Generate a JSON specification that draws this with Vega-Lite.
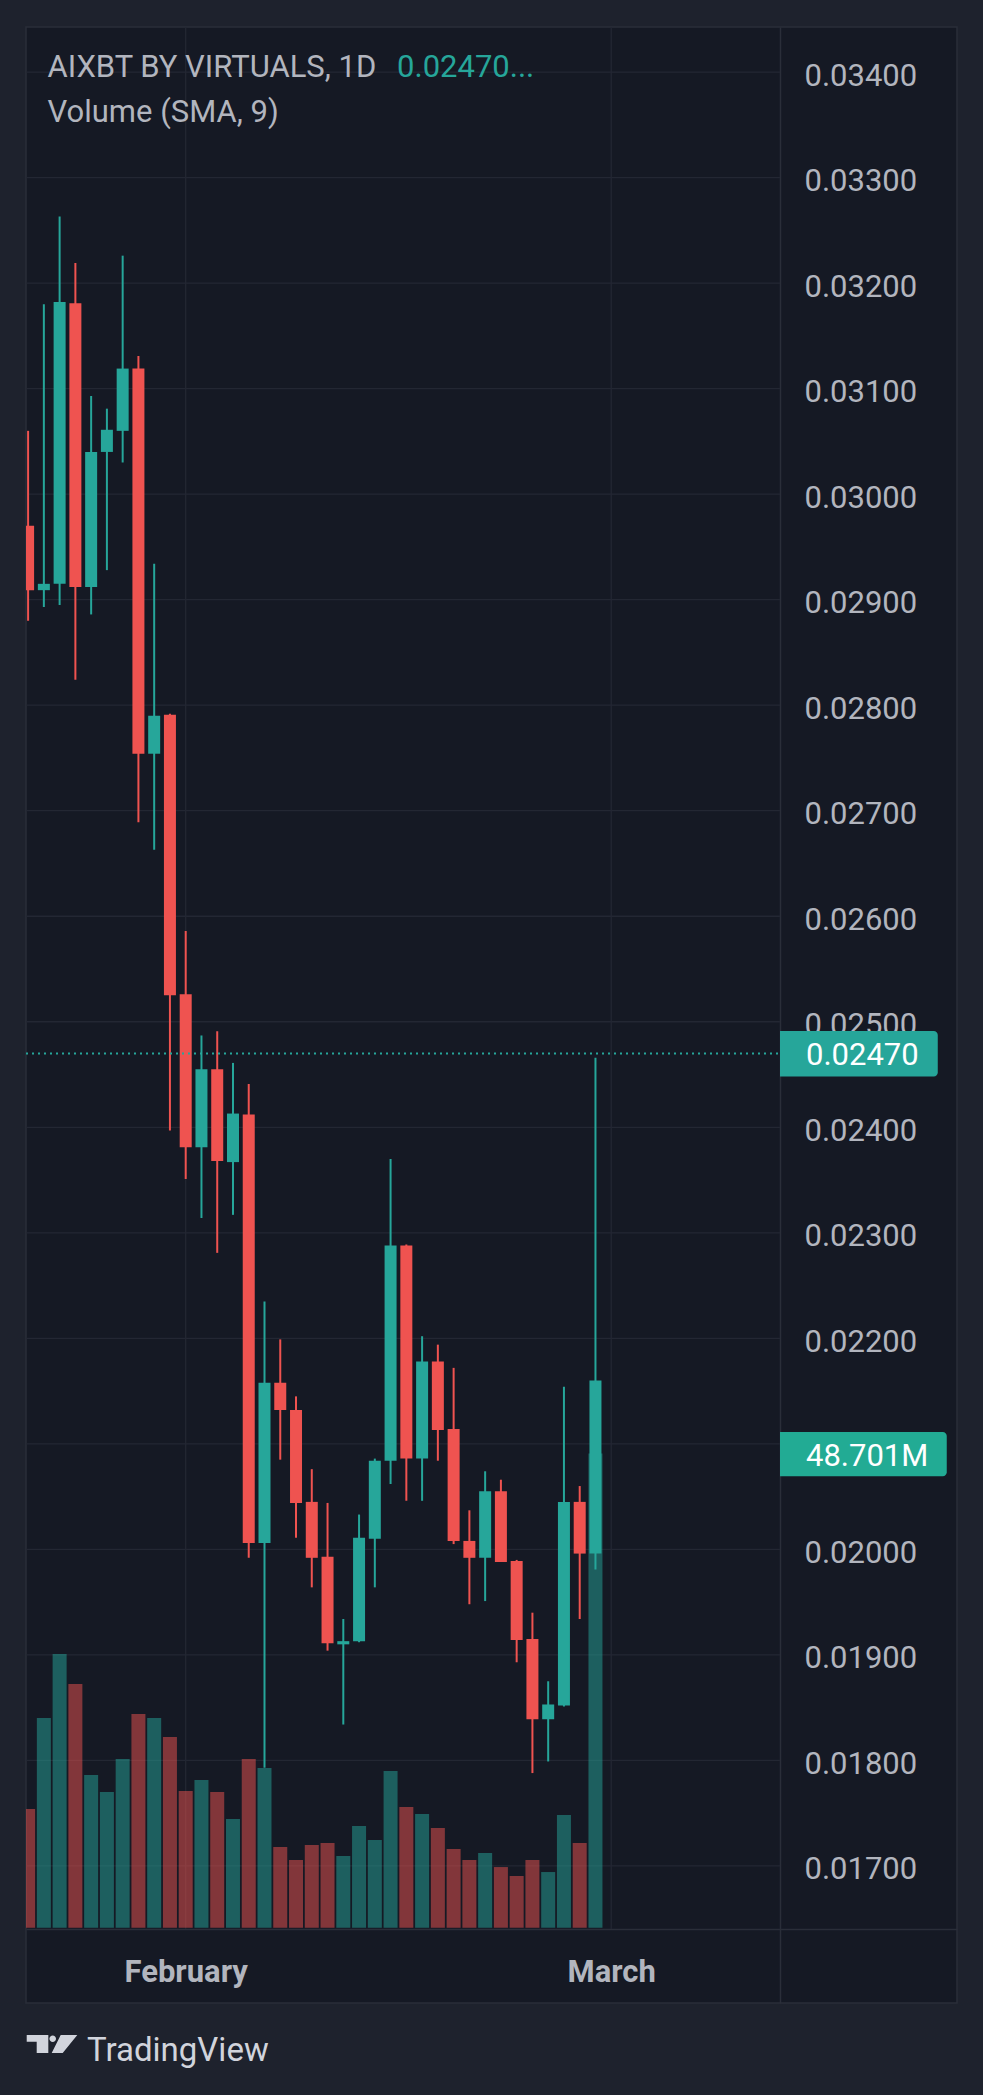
{
  "$schema": "https://vega.github.io/schema/vega-lite/v6.json",
  "width": 931,
  "height": 1976,
  "autosize": "none",
  "padding": {"left": 26, "top": 27, "right": 26, "bottom": 92},
  "background": "#1e222d",
  "config": {
    "font": "Roboto",
    "view": {"fill": "#151924", "stroke": "#2a2e39", "strokeWidth": 1.5}
  },
  "data": {
    "values": [
      {"i": 0, "o": 0.02970, "h": 0.03060, "l": 0.02880, "c": 0.02909, "v": 12190000},
      {"i": 1, "o": 0.02909, "h": 0.03180, "l": 0.02893, "c": 0.02915, "v": 21530000},
      {"i": 2, "o": 0.02915, "h": 0.03263, "l": 0.02895, "c": 0.03182, "v": 28110000},
      {"i": 3, "o": 0.03181, "h": 0.03219, "l": 0.02824, "c": 0.02912, "v": 25030000},
      {"i": 4, "o": 0.02912, "h": 0.03093, "l": 0.02886, "c": 0.03040, "v": 15680000},
      {"i": 5, "o": 0.03040, "h": 0.03081, "l": 0.02928, "c": 0.03061, "v": 13930000},
      {"i": 6, "o": 0.03060, "h": 0.03226, "l": 0.03030, "c": 0.03119, "v": 17320000},
      {"i": 7, "o": 0.03119, "h": 0.03131, "l": 0.02689, "c": 0.02754, "v": 21940000},
      {"i": 8, "o": 0.02754, "h": 0.02934, "l": 0.02663, "c": 0.02790, "v": 21530000},
      {"i": 9, "o": 0.02791, "h": 0.02792, "l": 0.02397, "c": 0.02525, "v": 19580000},
      {"i": 10, "o": 0.02526, "h": 0.02586, "l": 0.02351, "c": 0.02381, "v": 14040000},
      {"i": 11, "o": 0.02381, "h": 0.02487, "l": 0.02314, "c": 0.02455, "v": 15170000},
      {"i": 12, "o": 0.02455, "h": 0.02491, "l": 0.02281, "c": 0.02368, "v": 13930000},
      {"i": 13, "o": 0.02367, "h": 0.02461, "l": 0.02317, "c": 0.02413, "v": 11160000},
      {"i": 14, "o": 0.02412, "h": 0.02441, "l": 0.01992, "c": 0.02006, "v": 17320000},
      {"i": 15, "o": 0.02006, "h": 0.02235, "l": 0.01793, "c": 0.02158, "v": 16400000},
      {"i": 16, "o": 0.02158, "h": 0.02199, "l": 0.02085, "c": 0.02132, "v": 8280000},
      {"i": 17, "o": 0.02132, "h": 0.02145, "l": 0.02011, "c": 0.02044, "v": 6950000},
      {"i": 18, "o": 0.02045, "h": 0.02076, "l": 0.01964, "c": 0.01992, "v": 8490000},
      {"i": 19, "o": 0.01993, "h": 0.02044, "l": 0.01904, "c": 0.01911, "v": 8700000},
      {"i": 20, "o": 0.01910, "h": 0.01934, "l": 0.01834, "c": 0.01913, "v": 7360000},
      {"i": 21, "o": 0.01913, "h": 0.02033, "l": 0.01912, "c": 0.02011, "v": 10440000},
      {"i": 22, "o": 0.02010, "h": 0.02086, "l": 0.01964, "c": 0.02084, "v": 9000000},
      {"i": 23, "o": 0.02084, "h": 0.02370, "l": 0.02062, "c": 0.02288, "v": 16090000},
      {"i": 24, "o": 0.02288, "h": 0.02289, "l": 0.02046, "c": 0.02086, "v": 12390000},
      {"i": 25, "o": 0.02086, "h": 0.02202, "l": 0.02046, "c": 0.02178, "v": 11670000},
      {"i": 26, "o": 0.02178, "h": 0.02194, "l": 0.02084, "c": 0.02113, "v": 10240000},
      {"i": 27, "o": 0.02114, "h": 0.02172, "l": 0.02005, "c": 0.02008, "v": 8080000},
      {"i": 28, "o": 0.02008, "h": 0.02037, "l": 0.01948, "c": 0.01992, "v": 6950000},
      {"i": 29, "o": 0.01992, "h": 0.02074, "l": 0.01951, "c": 0.02055, "v": 7670000},
      {"i": 30, "o": 0.02055, "h": 0.02066, "l": 0.01988, "c": 0.01988, "v": 6230000},
      {"i": 31, "o": 0.01989, "h": 0.01990, "l": 0.01893, "c": 0.01914, "v": 5310000},
      {"i": 32, "o": 0.01915, "h": 0.01940, "l": 0.01788, "c": 0.01839, "v": 6950000},
      {"i": 33, "o": 0.01839, "h": 0.01875, "l": 0.01799, "c": 0.01853, "v": 5720000},
      {"i": 34, "o": 0.01852, "h": 0.02154, "l": 0.01851, "c": 0.02045, "v": 11570000},
      {"i": 35, "o": 0.02045, "h": 0.02060, "l": 0.01934, "c": 0.01996, "v": 8700000},
      {"i": 36, "o": 0.01996, "h": 0.02466, "l": 0.01981, "c": 0.02160, "v": 48701000}
    ]
  },
  "resolve": {"scale": {"x": "independent", "y": "independent"}},
  "layer": [
    {
      "data": {"values": [
        {"p": 0.017}, {"p": 0.018}, {"p": 0.019}, {"p": 0.020}, {"p": 0.021}, {"p": 0.022},
        {"p": 0.023}, {"p": 0.024}, {"p": 0.025}, {"p": 0.026}, {"p": 0.027}, {"p": 0.028},
        {"p": 0.029}, {"p": 0.030}, {"p": 0.031}, {"p": 0.032}, {"p": 0.033}, {"p": 0.034}
      ]},
      "mark": {"type": "rule", "color": "#232733", "strokeWidth": 1.3},
      "encoding": {
        "y": {"field": "p", "type": "quantitative", "scale": {"domain": [0.015701, 0.034427], "zero": false, "nice": false, "padding": 0}, "axis": null},
        "x": {"datum": -0.1332, "type": "quantitative", "scale": {"domain": [-0.1332, 58.94], "zero": false, "nice": false, "padding": 0}, "axis": null},
        "x2": {"datum": 47.709}
      }
    },
    {
      "data": {"values": [{"m": 10}, {"m": 37}]},
      "mark": {"type": "rule", "color": "#232733", "strokeWidth": 1.3},
      "encoding": {
        "x": {"field": "m", "type": "quantitative", "scale": {"domain": [-0.1332, 58.94], "zero": false, "nice": false, "padding": 0}, "axis": null},
        "y": {"datum": 0.034427, "type": "quantitative", "scale": {"domain": [0.015701, 0.034427], "zero": false, "nice": false, "padding": 0}, "axis": null},
        "y2": {"datum": 0.016402}
      }
    },
    {
      "mark": {"type": "bar", "size": 14, "opacity": 0.5, "clip": true},
      "encoding": {
        "x": {"field": "i", "type": "quantitative", "scale": {"domain": [-0.1332, 58.94], "zero": false, "nice": false, "padding": 0}, "axis": null},
        "y": {"field": "v", "type": "quantitative", "scale": {"domain": [-7730000, 195200000], "zero": false, "nice": false, "padding": 0}, "axis": null},
        "y2": {"datum": 0},
        "color": {"condition": {"test": "datum.c >= datum.o", "value": "#26a69a"}, "value": "#ef5350"}
      }
    },
    {
      "data": {"values": [{"v": 48701000, "label": "48.701M"}]},
      "mark": {"type": "rect", "color": "#22ab94", "cornerRadiusTopRight": 4, "cornerRadiusBottomRight": 4},
      "encoding": {
        "x": {"datum": 47.709, "type": "quantitative", "scale": {"domain": [-0.1332, 58.94], "zero": false, "nice": false, "padding": 0}, "axis": null},
        "x2": {"datum": 58.29},
        "y": {"datum": 50920000, "type": "quantitative", "scale": {"domain": [-7730000, 195200000], "zero": false, "nice": false, "padding": 0}, "axis": null},
        "y2": {"datum": 46370000}
      }
    },
    {
      "data": {"values": [{"v": 48701000, "label": "48.701M"}]},
      "mark": {"type": "text", "color": "#ffffff", "fontSize": 31, "align": "left", "baseline": "middle", "dx": 26, "dy": 3},
      "encoding": {
        "x": {"datum": 47.709, "type": "quantitative", "scale": {"domain": [-0.1332, 58.94], "zero": false, "nice": false, "padding": 0}, "axis": null},
        "y": {"field": "v", "type": "quantitative", "scale": {"domain": [-7730000, 195200000], "zero": false, "nice": false, "padding": 0}, "axis": null},
        "text": {"field": "label"}
      }
    },
    {
      "mark": {"type": "rule", "strokeWidth": 2, "clip": true},
      "encoding": {
        "x": {"field": "i", "type": "quantitative", "scale": {"domain": [-0.1332, 58.94], "zero": false, "nice": false, "padding": 0}, "axis": null},
        "y": {"field": "l", "type": "quantitative", "scale": {"domain": [0.015701, 0.034427], "zero": false, "nice": false, "padding": 0}, "axis": null},
        "y2": {"field": "h"},
        "color": {"condition": {"test": "datum.c >= datum.o", "value": "#26a69a"}, "value": "#ef5350"}
      }
    },
    {
      "mark": {"type": "bar", "size": 12, "clip": true},
      "encoding": {
        "x": {
          "field": "i", "type": "quantitative",
          "scale": {"domain": [-0.1332, 58.94], "zero": false, "nice": false, "padding": 0},
          "axis": {
            "orient": "bottom", "offset": -74, "title": null, "grid": false,
            "values": [10, 37],
            "labelExpr": "datum.value == 10 ? 'February' : 'March'",
            "ticks": false, "tickSize": 0,
            "domainColor": "#2a2e39", "domainWidth": 1.5,
            "labelColor": "#b2b5be", "labelFontSize": 31, "labelFontWeight": "bold",
            "labelPadding": 43, "labelBaseline": "middle",
            "labelOverlap": false, "labelFlush": false
          }
        },
        "y": {
          "field": "o", "type": "quantitative",
          "scale": {"domain": [0.015701, 0.034427], "zero": false, "nice": false, "padding": 0},
          "axis": {
            "orient": "right", "offset": -177, "title": null, "grid": false,
            "values": [0.017, 0.018, 0.019, 0.020, 0.022, 0.023, 0.024, 0.025, 0.026, 0.027, 0.028, 0.029, 0.030, 0.031, 0.032, 0.033, 0.034],
            "format": ".5f", "ticks": false, "tickSize": 0,
            "domainColor": "#2a2e39", "domainWidth": 1.5,
            "labelColor": "#b2b5be", "labelFontSize": 31, "labelPadding": 24,
            "labelAlign": "left", "labelBaseline": "middle", "labelOffset": 4,
            "labelOverlap": false, "labelFlush": false
          }
        },
        "y2": {"field": "c"},
        "color": {"condition": {"test": "datum.c >= datum.o", "value": "#26a69a"}, "value": "#ef5350"}
      }
    },
    {
      "data": {"values": [{"p": 0.0247, "label": "0.02470"}]},
      "mark": {"type": "rule", "color": "#26a69a", "strokeWidth": 2, "strokeDash": [2, 4]},
      "encoding": {
        "x": {"datum": -0.1332, "type": "quantitative", "scale": {"domain": [-0.1332, 58.94], "zero": false, "nice": false, "padding": 0}, "axis": null},
        "x2": {"datum": 47.709},
        "y": {"field": "p", "type": "quantitative", "scale": {"domain": [0.015701, 0.034427], "zero": false, "nice": false, "padding": 0}, "axis": null}
      }
    },
    {
      "data": {"values": [{"p": 0.0247, "label": "0.02470"}]},
      "mark": {"type": "rect", "color": "#26a69a", "cornerRadiusTopRight": 4, "cornerRadiusBottomRight": 4},
      "encoding": {
        "x": {"datum": 47.709, "type": "quantitative", "scale": {"domain": [-0.1332, 58.94], "zero": false, "nice": false, "padding": 0}, "axis": null},
        "x2": {"datum": 57.72},
        "y": {"datum": 0.024913, "type": "quantitative", "scale": {"domain": [0.015701, 0.034427], "zero": false, "nice": false, "padding": 0}, "axis": null},
        "y2": {"datum": 0.02448}
      }
    },
    {
      "data": {"values": [{"p": 0.0247, "label": "0.02470"}]},
      "mark": {"type": "text", "color": "#ffffff", "fontSize": 31, "align": "left", "baseline": "middle", "dx": 26, "dy": 3},
      "encoding": {
        "x": {"datum": 47.709, "type": "quantitative", "scale": {"domain": [-0.1332, 58.94], "zero": false, "nice": false, "padding": 0}, "axis": null},
        "y": {"field": "p", "type": "quantitative", "scale": {"domain": [0.015701, 0.034427], "zero": false, "nice": false, "padding": 0}, "axis": null},
        "text": {"field": "label"}
      }
    },
    {
      "data": {"values": [{"label": "AIXBT BY VIRTUALS, 1D"}]},
      "mark": {"type": "text", "color": "#b2b5be", "fontSize": 31, "align": "left", "baseline": "middle"},
      "encoding": {
        "x": {"datum": 1.23, "type": "quantitative", "scale": {"domain": [-0.1332, 58.94], "zero": false, "nice": false, "padding": 0}, "axis": null},
        "y": {"datum": 0.034036, "type": "quantitative", "scale": {"domain": [0.015701, 0.034427], "zero": false, "nice": false, "padding": 0}, "axis": null},
        "text": {"field": "label"}
      }
    },
    {
      "data": {"values": [{"label": "0.02470..."}]},
      "mark": {"type": "text", "color": "#26a69a", "fontSize": 31, "align": "left", "baseline": "middle"},
      "encoding": {
        "x": {"datum": 23.41, "type": "quantitative", "scale": {"domain": [-0.1332, 58.94], "zero": false, "nice": false, "padding": 0}, "axis": null},
        "y": {"datum": 0.034036, "type": "quantitative", "scale": {"domain": [0.015701, 0.034427], "zero": false, "nice": false, "padding": 0}, "axis": null},
        "text": {"field": "label"}
      }
    },
    {
      "data": {"values": [{"label": "Volume (SMA, 9)"}]},
      "mark": {"type": "text", "color": "#b2b5be", "fontSize": 31, "align": "left", "baseline": "middle"},
      "encoding": {
        "x": {"datum": 1.23, "type": "quantitative", "scale": {"domain": [-0.1332, 58.94], "zero": false, "nice": false, "padding": 0}, "axis": null},
        "y": {"datum": 0.033613, "type": "quantitative", "scale": {"domain": [0.015701, 0.034427], "zero": false, "nice": false, "padding": 0}, "axis": null},
        "text": {"field": "label"}
      }
    },
    {
      "data": {"values": [{"name": "logo"}]},
      "mark": {
        "type": "point", "filled": true, "opacity": 1, "strokeWidth": 0, "color": "#d1d4dc", "size": 2560,
        "shape": "M-1,-0.356L-0.146,-0.356L-0.146,0.356L-0.605,0.356L-0.605,-0.091L-1,-0.091Z M-0.102,-0.21A0.13,0.13 0 1,0 0.158,-0.21A0.13,0.13 0 1,0 -0.102,-0.21Z M0.344,-0.356L1,-0.356L0.423,0.356L-0.012,0.356Z"
      },
      "encoding": {
        "x": {"datum": 1.517, "type": "quantitative", "scale": {"domain": [-0.1332, 58.94], "zero": false, "nice": false, "padding": 0}, "axis": null},
        "y": {"datum": 0.015312, "type": "quantitative", "scale": {"domain": [0.015701, 0.034427], "zero": false, "nice": false, "padding": 0}, "axis": null}
      }
    },
    {
      "data": {"values": [{"label": "TradingView"}]},
      "mark": {"type": "text", "color": "#d1d4dc", "fontSize": 33, "align": "left", "baseline": "alphabetic"},
      "encoding": {
        "x": {"datum": 3.737, "type": "quantitative", "scale": {"domain": [-0.1332, 58.94], "zero": false, "nice": false, "padding": 0}, "axis": null},
        "y": {"datum": 0.015151, "type": "quantitative", "scale": {"domain": [0.015701, 0.034427], "zero": false, "nice": false, "padding": 0}, "axis": null},
        "text": {"field": "label"}
      }
    }
  ]
}
